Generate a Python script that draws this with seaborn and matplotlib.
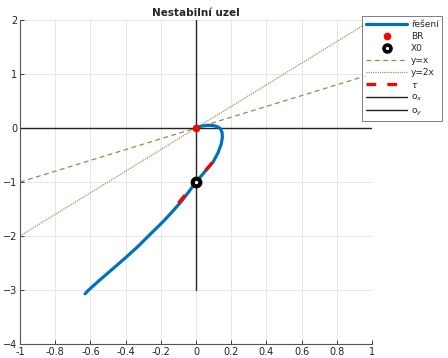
import numpy as np
import pandas as pd
import matplotlib
matplotlib.use("Agg")
import matplotlib.pyplot as plt
import seaborn as sns
from matplotlib.lines import Line2D

sns.set_theme(style="ticks")
plt.rcParams['font.family'] = ['DejaVu Sans']
plt.rcParams['lines.scale_dashes'] = False

# -----------------------------
# DATA
# -----------------------------
sol_x = [-0.63, -0.61, -0.545, -0.47, -0.403, -0.335, -0.27, -0.186, -0.14,
         -0.091, -0.045, 0.0, 0.05, 0.097, 0.125, 0.143, 0.150, 0.148, 0.138,
         0.125, 0.10, 0.07, 0.04, 0.015, 0.0]
sol_y = [-3.07, -3.0, -2.81, -2.6, -2.41, -2.21, -2.0, -1.73, -1.57,
         -1.39, -1.2, -1.0, -0.81, -0.63, -0.46, -0.30, -0.17, -0.08, -0.01,
         0.02, 0.045, 0.05, 0.04, 0.02, 0.0]

br_x, br_y = [0.0], [0.0]
x0_x, x0_y = [0.0], [-1.0]

tau_x = [-0.10, 0.10]
tau_y = [-1.39, -0.61]

line_x = [-1, 1]
yx = [-1, 1]
y2x = [-2, 2]

ox_x, ox_y = [-1, 1], [0, 0]
oy_x, oy_y = [0, 0], [-3, 2]

xticks = [-1, -0.8, -0.6, -0.4, -0.2, 0, 0.2, 0.4, 0.6, 0.8, 1]
xtick_labels = ["-1", "-0.8", "-0.6", "-0.4", "-0.2", "0", "0.2", "0.4", "0.6", "0.8", "1"]
yticks = [-4, -3, -2, -1, 0, 1, 2]

blue = "#0072BD"
c_yx = "#A8824E"
c_y2x = "#9E8A4A"

# -----------------------------
# FIGURE
# -----------------------------
fig = plt.figure(figsize=(4.48, 3.58), dpi=100)
ax = fig.add_axes([20 / 448, 14 / 358, 352 / 448, 324 / 358])

raw = dict(ax=ax, estimator=None, sort=False, errorbar=None)
sns.lineplot(x=line_x, y=yx, color=c_yx, lw=0.9, linestyle=(0, (3.5, 2.5)), **raw)
sns.lineplot(x=line_x, y=y2x, color=c_y2x, lw=0.9, linestyle=(0, (0.8, 0.8)), **raw)
sns.lineplot(x=ox_x, y=ox_y, color="#222222", lw=1.0, **raw)
sns.lineplot(x=oy_x, y=oy_y, color="#222222", lw=1.0, **raw)
sns.lineplot(x=sol_x, y=sol_y, color=blue, lw=2.3, **raw)
sns.lineplot(x=tau_x, y=tau_y, color="red", lw=2.3,
             linestyle=(0, (7.5, 23)), **raw)
ax.plot(br_x, br_y, "o", color="red", ms=4.5, zorder=5)
ax.plot(x0_x, x0_y, "o", mfc="white", mec="black", mew=3.0, ms=5.5, zorder=6)

ax.set_xlim(-1, 1)
ax.set_ylim(-4, 2)
ax.set_xticks(xticks)
ax.set_xticklabels(xtick_labels)
ax.set_yticks(yticks)
ax.grid(True, color="#e6e6e6", lw=0.7)
ax.set_axisbelow(True)
for s in ["top", "right"]:
    ax.spines[s].set_visible(False)
for s in ["left", "bottom"]:
    ax.spines[s].set_color("#555555")
    ax.spines[s].set_linewidth(0.8)
ax.tick_params(direction="in", length=3, width=0.6, labelsize=7,
               colors="#222222", pad=2)
ax.set_title("Nestabilní uzel", fontsize=7.5, fontweight="bold", pad=3)

handles = [
    Line2D([], [], color=blue, lw=2.3),
    Line2D([], [], marker="o", color="red", ls="none", ms=4.5),
    Line2D([], [], marker="o", mfc="white", mec="black", mew=2.6, ls="none", ms=5),
    Line2D([], [], color=c_yx, lw=0.9, ls=(0, (3.5, 2.5))),
    Line2D([], [], color=c_y2x, lw=0.9, ls=(0, (0.8, 0.8))),
    Line2D([], [], color="red", lw=2.3, ls=(0, (7, 8))),
    Line2D([], [], color="#222222", lw=1.0),
    Line2D([], [], color="#222222", lw=1.0),
]
labels = ["řešení", "BR", "X0", "y=x", "y=2x", r"$\tau$", r"o$_x$", r"o$_y$"]
leg = ax.legend(handles, labels, loc="upper left", bbox_to_anchor=(0.972, 1.012),
                fontsize=6.5, frameon=True, fancybox=False, borderpad=0.4,
                labelspacing=0.35, handlelength=4.6, handletextpad=0.4,
                borderaxespad=0)
leg.get_frame().set_edgecolor("#444444")
leg.get_frame().set_linewidth(0.6)

fig.savefig("out.png", dpi=100)
